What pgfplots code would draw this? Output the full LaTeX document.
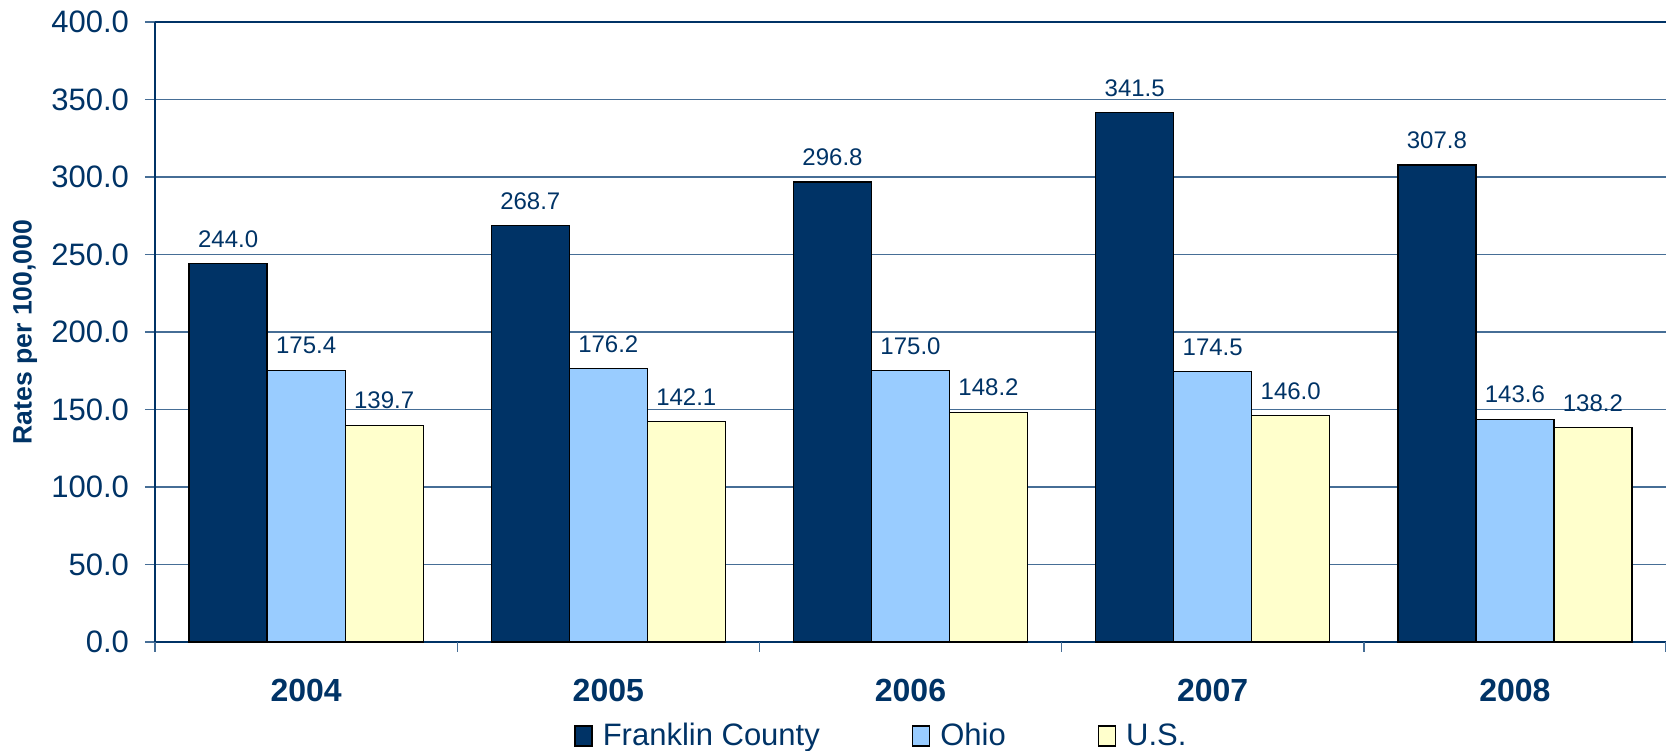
\documentclass[border=0pt]{standalone}
\usepackage{fontspec}
\setmainfont{Liberation Sans}
\usepackage{pgfplots}
\pgfplotsset{compat=1.18}
\definecolor{navy}{RGB}{0,51,102}
\definecolor{ohio}{RGB}{153,204,255}
\definecolor{usy}{RGB}{255,255,204}
\definecolor{gridc}{RGB}{70,110,150}
\begin{document}
\begin{tikzpicture}
\begin{axis}[
  scale only axis, width=755.5pt, height=310pt,
  xmin=-0.5, xmax=4.5, ymin=0, ymax=400,
  clip=false,
  ybar=0pt, bar width=39pt,
  axis x line*=bottom, axis y line*=left,
  axis line style={navy, line width=0.9pt},
  /pgf/number format/assume math mode=true,
  xtick={0,1,2,3,4}, xticklabels={2004,2005,2006,2007,2008},
  x tick style={draw=none},
  x tick label style={font=\fontsize{16}{18}\selectfont\bfseries, text=navy, yshift=-10pt},
  ytick={0,50,...,400},
  y tick style={draw=gridc, line width=0.7pt},
  major tick length=5pt, tick align=outside,
  yticklabel style={font=\fontsize{15.5}{18}\selectfont, text=navy, xshift=-4.5pt,
    /pgf/number format/fixed, /pgf/number format/fixed zerofill, /pgf/number format/precision=1},
  ymajorgrids, grid style={gridc, line width=0.6pt},
  ylabel={Rates per 100,000},
  ylabel style={at={(axis description cs:-0.086,0.5)}, anchor=center, font=\fontsize{13.3}{15}\selectfont\bfseries, text=navy},
  nodes near coords={\pgfmathprintnumber[fixed,fixed zerofill,precision=1]{\pgfplotspointmeta}},
  every node near coord/.append style={font=\fontsize{12}{14}\selectfont, text=navy, yshift=4.5pt},
  legend columns=3,
  legend style={at={(axis description cs:0.2773,-0.1516)}, anchor=west, draw=none, fill=none,
    font=\fontsize{15.5}{18}\selectfont, text=navy, inner sep=0pt,
    /tikz/every odd column/.append style={column sep=3pt},
    /tikz/every even column/.append style={column sep=44pt}},
  legend cell align=left,
  legend image code/.code={\draw[#1, draw=black, line width=0.7pt] (0pt,-5pt) rectangle (8.5pt,5pt);},
]
\addplot[fill=navy, draw=black, line width=0.6pt] coordinates {(0,244.0) (1,268.7) (2,296.8) (3,341.5) (4,307.8)};
\addplot[fill=ohio, draw=black, line width=0.6pt] coordinates {(0,175.4) (1,176.2) (2,175.0) (3,174.5) (4,143.6)};
\addplot[fill=usy, draw=black, line width=0.6pt] coordinates {(0,139.7) (1,142.1) (2,148.2) (3,146.0) (4,138.2)};
\legend{Franklin County, Ohio, U.S.}
\draw[navy, line width=1.2pt] (axis cs:-0.5,400) -- (axis cs:4.5,400);
\pgfplotsinvokeforeach{-0.5,0.5,1.5,2.5,3.5,4.5}{\draw[gridc, line width=0.7pt] (axis cs:#1,0) -- ([yshift=-5pt]axis cs:#1,0);}
\end{axis}
\pgfresetboundingbox
\useasboundingbox ([xshift=-77.5pt, yshift=-54pt]current axis.south west) rectangle ([yshift=11pt]current axis.north east);
\end{tikzpicture}
\end{document}
